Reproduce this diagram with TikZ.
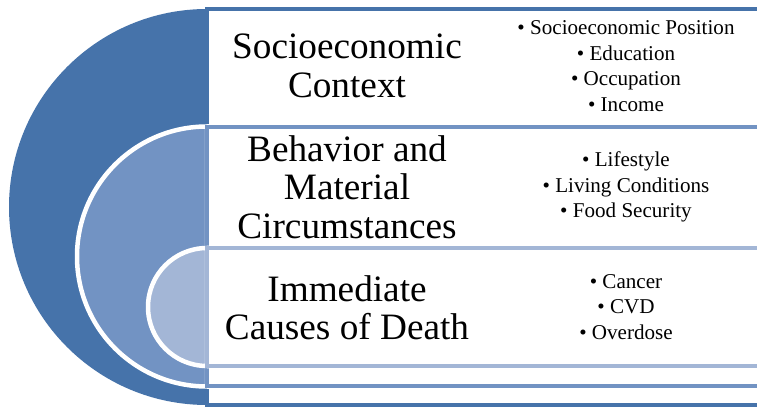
\documentclass[tikz,border=0pt]{standalone}
\usepackage{fontspec}
\setmainfont{Liberation Serif}
\definecolor{ringdark}{RGB}{70,115,170}
\definecolor{ringmid}{RGB}{114,147,195}
\definecolor{ringlight}{RGB}{163,182,214}
\begin{document}
\begin{tikzpicture}[x=0.02cm,y=0.02cm,
    disc/.style={draw=white,line width=0.09cm},
    band/.style={fill=white,line width=0.08cm},
    title/.style={align=center,font=\fontsize{21.2}{21.9}\selectfont},
    items/.style={align=center,font=\fontsize{12}{14.5}\selectfont}]
    \useasboundingbox (0,0) rectangle (757,409);
    \fill[ringdark] (207,400) arc[start angle=90,end angle=270,radius=198] -- cycle;
    \draw[band,draw=ringdark] (760,400) -- (207,400) -- (207,4) -- (760,4);
    \draw[disc,fill=ringmid] (207,282.5) arc[start angle=90,end angle=270,radius=130] -- cycle;
    \draw[band,draw=ringmid] (760,282) -- (207,282) -- (207,23) -- (760,23);
    \draw[disc,fill=ringlight] (207,161) arc[start angle=90,end angle=270,radius=59] -- cycle;
    \draw[band,draw=ringlight] (760,161) -- (207,161) -- (207,43) -- (760,43);
    \node[title] (ctxtitle) at (347,343) {Socioeconomic\\Context};
    \node[title] (behtitle) at (347,222) {Behavior and\\Material\\Circumstances};
    \node[title] (deathtitle) at (347,101) {Immediate\\Causes of Death};
    \node[items] (ctxitems) at (626,343) {\textbullet\ Socioeconomic Position\\\textbullet\ Education\\\textbullet\ Occupation\\\textbullet\ Income};
    \node[items] (behitems) at (626,222) {\textbullet\ Lifestyle\\\textbullet\ Living Conditions\\\textbullet\ Food Security};
    \node[items] (deathitems) at (626,102) {\textbullet\ Cancer\\\textbullet\ CVD\\\textbullet\ Overdose};
\end{tikzpicture}
\end{document}
